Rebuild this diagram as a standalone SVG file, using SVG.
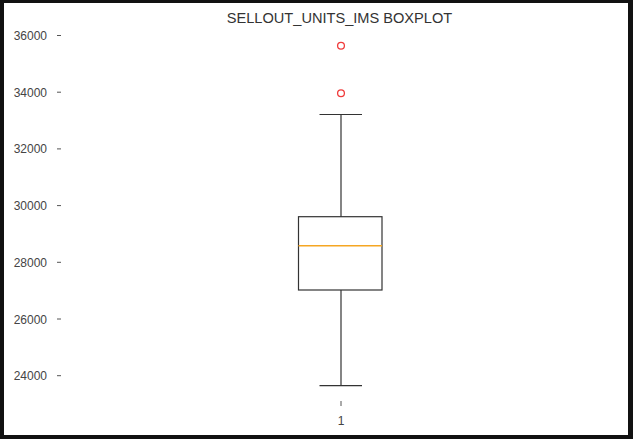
<svg xmlns="http://www.w3.org/2000/svg" width="633" height="439" viewBox="0 0 633 439">
<style>
.lbl{font-family:"Liberation Sans",Arial,sans-serif;font-size:12px;fill:#444;text-anchor:end;}
.xl{font-family:"Liberation Sans",Arial,sans-serif;font-size:12px;fill:#444;text-anchor:middle;}
.tick{stroke:#555;stroke-width:1;}
.box{fill:none;stroke:#333;stroke-width:1.2;}
.out{fill:none;stroke:#f03c3c;stroke-width:1.3;}
</style>
<rect x="0" y="0" width="633" height="439" fill="#111"/>
<rect x="4" y="3" width="624" height="432" fill="#fff"/>
<text id="title" x="339.5" y="22.7" text-anchor="middle" font-family="Liberation Sans, Arial, sans-serif" font-size="14.6" fill="#333">SELLOUT_UNITS_IMS BOXPLOT</text>
<g id="yaxis">
<text class="lbl" x="47" y="40">36000</text><line class="tick" x1="57" y1="35.5" x2="61" y2="35.5"/>
<text class="lbl" x="47" y="96.7">34000</text><line class="tick" x1="57" y1="92.2" x2="61" y2="92.2"/>
<text class="lbl" x="47" y="153.4">32000</text><line class="tick" x1="57" y1="148.9" x2="61" y2="148.9"/>
<text class="lbl" x="47" y="210.1">30000</text><line class="tick" x1="57" y1="205.6" x2="61" y2="205.6"/>
<text class="lbl" x="47" y="266.8">28000</text><line class="tick" x1="57" y1="262.3" x2="61" y2="262.3"/>
<text class="lbl" x="47" y="323.5">26000</text><line class="tick" x1="57" y1="319" x2="61" y2="319"/>
<text class="lbl" x="47" y="380.2">24000</text><line class="tick" x1="57" y1="375.7" x2="61" y2="375.7"/>
</g>
<g id="xaxis">
<line class="tick" x1="341" y1="401" x2="341" y2="406"/>
<text class="xl" x="341" y="425.3">1</text>
</g>
<g id="connectors">
<line class="box" x1="341" y1="114.5" x2="341" y2="216.7"/>
<line class="box" x1="341" y1="290" x2="341" y2="385.7"/>
<line class="box" x1="319.5" y1="114.5" x2="362" y2="114.5"/>
<line class="box" x1="319.5" y1="385.7" x2="362" y2="385.7"/>
</g>
<g id="box">
<rect class="box" x="298.5" y="216.7" width="83.5" height="73.3"/>
<line x1="298.5" y1="245.7" x2="382" y2="245.7" stroke="#f5a623" stroke-width="1.4"/>
</g>
<g id="outliers">
<circle class="out" cx="341" cy="45.7" r="3.4"/>
<circle class="out" cx="341" cy="93.3" r="3.4"/>
</g>
</svg>
